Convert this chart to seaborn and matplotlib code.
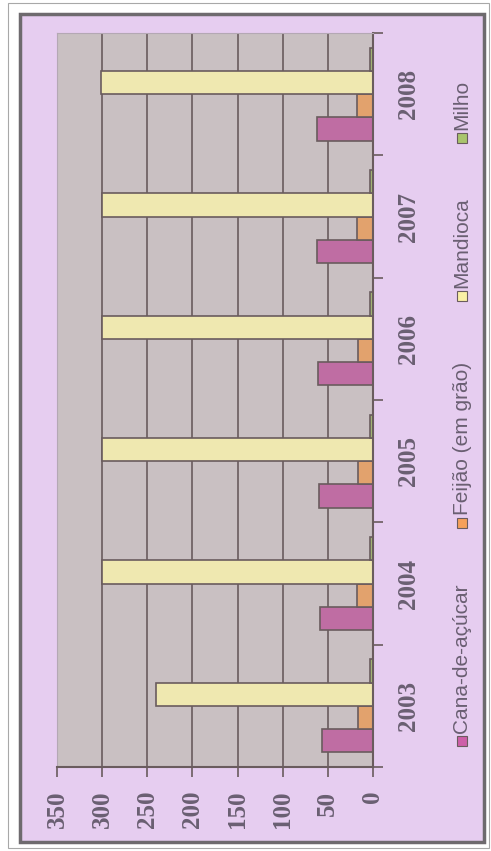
import numpy as np
import pandas as pd
import matplotlib
matplotlib.use('Agg')
import matplotlib.pyplot as plt
from matplotlib.patches import Rectangle
import seaborn as sns

anos = ['2003', '2004', '2005', '2006', '2007', '2008']
culturas = ['Cana-de-açúcar', 'Feijão (em grão)', 'Mandioca', 'Milho']
cana = [57, 59, 60, 61, 62, 62]
feijao = [17, 18, 17, 17, 18, 18]
mandioca = [240, 300, 300, 300, 300, 301]
milho = [3, 3, 3, 3, 3, 3]
ticks_valor = [0, 50, 100, 150, 200, 250, 300, 350]

cores = ['#cd5fa8', '#f5a05a', '#faf0a5', '#a9c46c']
borda = '#6a5c5e'
texto = '#6a5f72'
W, H = 491, 851

df = pd.DataFrame({
    'ano': anos * 4,
    'cultura': np.repeat(culturas, len(anos)),
    'valor': cana + feijao + mandioca + milho,
})

fig = plt.figure(figsize=(W / 100, H / 100), dpi=100)
fig.patch.set_facecolor('white')

# outer frames
fig.add_artist(Rectangle((8 / W, 1 - 848 / H), 481 / W, 845 / H, transform=fig.transFigure,
                         fill=False, ec='#a8a8a8', lw=0.8, zorder=-3))
fig.add_artist(Rectangle((20 / W, 1 - 842 / H), 464 / W, 828 / H, transform=fig.transFigure,
                         fc='#e6cdf0', ec='#6e6a6e', lw=2.5, zorder=-2))

ax = fig.add_axes([57 / W, 1 - 767 / H, (373 - 57) / W, (767 - 33) / H])
ax.set_facecolor('#c9c0c2')

sns.barplot(data=df, y='ano', x='valor', hue='cultura', orient='h', order=anos,
            hue_order=culturas, palette=cores, width=0.76, edgecolor=borda,
            linewidth=1.2, legend=False, ax=ax, errorbar=None)

ax.set_xlim(350, 0)
ax.set_ylim(-0.5, 5.5)
ax.set_xlabel('')
ax.set_ylabel('')
ax.set_xticks(ticks_valor)
ax.xaxis.grid(True, color=borda, lw=1.2)
ax.yaxis.grid(False)
ax.set_axisbelow(True)

ax.yaxis.tick_right()
ax.set_yticks(range(len(anos)))
ax.set_yticklabels(anos, rotation=90, va='center')
ax.set_yticks(np.arange(-0.5, len(anos), 1), minor=True)
ax.tick_params(axis='y', which='major', length=0, pad=17)
ax.tick_params(axis='y', which='minor', length=7, width=1.2, color=borda,
               right=True, left=False)
ax.tick_params(axis='x', length=7, width=1.2, color=borda, pad=10, labelrotation=90)

for lab in ax.get_xticklabels() + ax.get_yticklabels():
    lab.set_fontfamily('Liberation Serif')
    lab.set_fontweight('bold')
    lab.set_fontsize(18)
    lab.set_color(texto)

for s in ['right', 'bottom']:
    ax.spines[s].set_color(borda)
    ax.spines[s].set_linewidth(1.5)
for s in ['top', 'left']:
    ax.spines[s].set_color('#b4a8b4')
    ax.spines[s].set_linewidth(0.8)

# legend drawn rotated, along the right edge
leg_x = 462
leg_sq = [741, 523, 296, 138]
for cult, cor, yc in zip(culturas, cores, leg_sq):
    fig.add_artist(Rectangle(((leg_x - 5) / W, 1 - (yc + 5) / H), 10 / W, 10 / H,
                             transform=fig.transFigure, fc=cor, ec=borda, lw=0.8))
    fig.text(leg_x / W, 1 - (yc - 8) / H, cult, rotation=90, rotation_mode='anchor',
             ha='left', va='center', fontsize=15, color=texto,
             family=['Liberation Sans', 'DejaVu Sans'])

fig.savefig('out.png', dpi=100)
